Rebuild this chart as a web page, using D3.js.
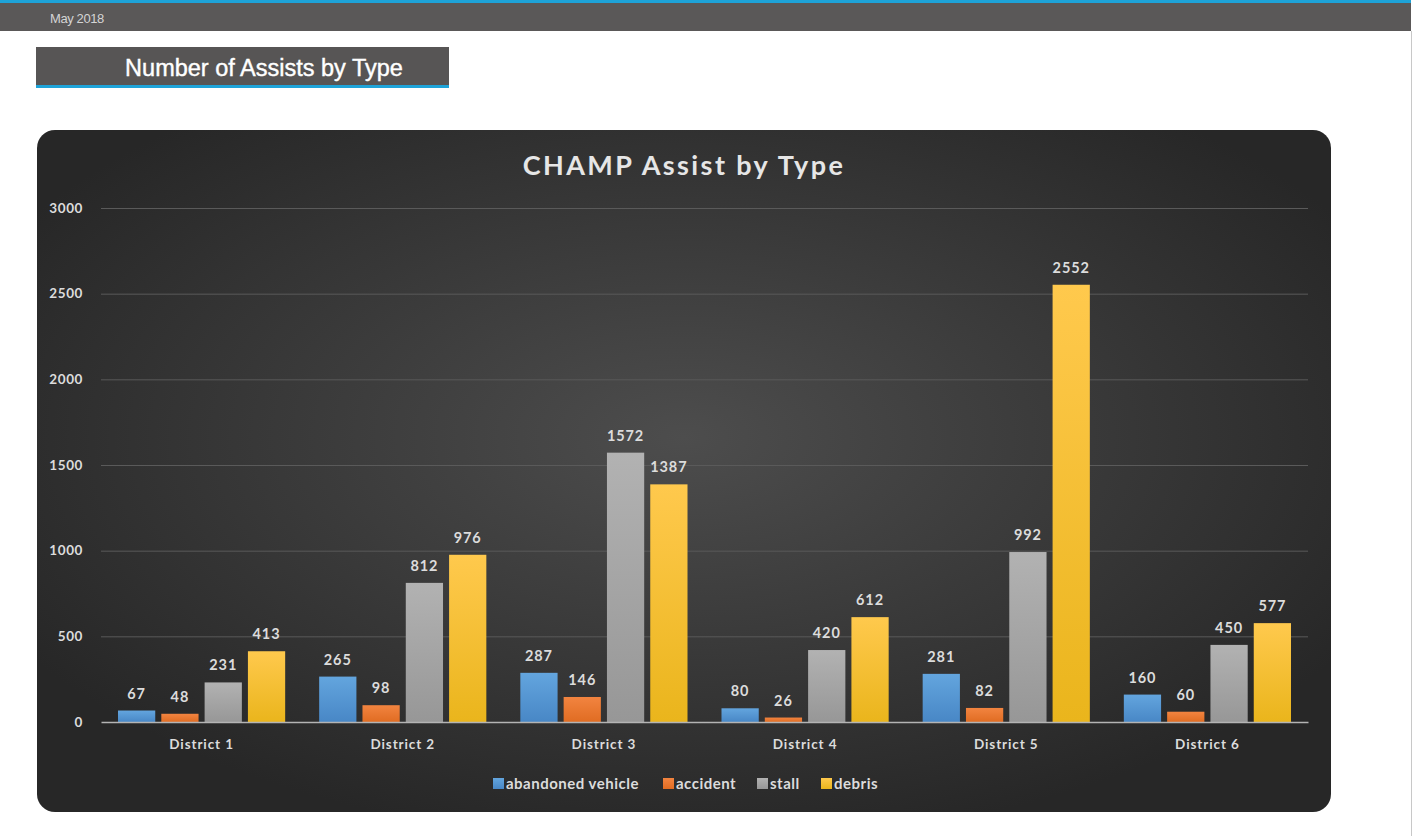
<!DOCTYPE html>
<html>
<head>
<meta charset="utf-8">
<script src="https://cdn.jsdelivr.net/npm/d3@7"></script>
<style>
  body { margin: 0; background: #fff; }
  svg { display: block; }
</style>
</head>
<body>
<div id="chart"></div>
<script>
const districts = ["District 1", "District 2", "District 3", "District 4", "District 5", "District 6"];
const types = ["abandoned vehicle", "accident", "stall", "debris"];
const abandoned = [67, 265, 287, 80, 281, 160];
const accident = [48, 98, 146, 26, 82, 60];
const stall = [231, 812, 1572, 420, 992, 450];
const debris = [413, 976, 1387, 612, 2552, 577];
const yTicks = [0, 500, 1000, 1500, 2000, 2500, 3000];

const seriesValues = [abandoned, accident, stall, debris];
const colors = [
  ["#63a5de", "#4887c6"],
  ["#f28440", "#e06c22"],
  ["#b2b2b2", "#979797"],
  ["#ffc94d", "#eab51c"],
];

const width = 1414;
const height = 836;
const font = "Lato, sans-serif";
const textColor = "#dcdcdc";

const svg = d3.select("#chart")
  .append("svg")
  .attr("width", width)
  .attr("height", height);

const defs = svg.append("defs");

const bg = defs.append("radialGradient")
  .attr("id", "panelBg")
  .attr("cx", "50%").attr("cy", "45%").attr("r", "60%");
bg.append("stop").attr("offset", "0%").attr("stop-color", "#4d4d4d");
bg.append("stop").attr("offset", "100%").attr("stop-color", "#272727");

colors.forEach((c, i) => {
  const g = defs.append("linearGradient")
    .attr("id", "bar" + i)
    .attr("x1", 0).attr("y1", 0).attr("x2", 0).attr("y2", 1);
  g.append("stop").attr("offset", "0%").attr("stop-color", c[0]);
  g.append("stop").attr("offset", "100%").attr("stop-color", c[1]);
});

// header strip
svg.append("rect").attr("x", 0).attr("y", 0).attr("width", 1411).attr("height", 31).attr("fill", "#5a5858");
svg.append("rect").attr("x", 0).attr("y", 0).attr("width", 1411).attr("height", 3).attr("fill", "#1ea3d8");
svg.append("text")
  .attr("x", 50).attr("y", 23)
  .attr("font-family", "Liberation Sans, Arial, sans-serif")
  .attr("font-size", 13)
  .attr("letter-spacing", -0.4)
  .attr("fill", "#d4d4d4")
  .text("May 2018");
svg.append("line")
  .attr("x1", 1411.5).attr("x2", 1411.5).attr("y1", 31).attr("y2", height)
  .attr("stroke", "#c8c8c8");

// section title box
svg.append("rect").attr("x", 36).attr("y", 47).attr("width", 413).attr("height", 41).attr("fill", "#575555");
svg.append("rect").attr("x", 36).attr("y", 85).attr("width", 413).attr("height", 3).attr("fill", "#1ea3d8");
svg.append("text")
  .attr("x", 264).attr("y", 76)
  .attr("text-anchor", "middle")
  .attr("font-family", "Liberation Sans, Arial, sans-serif")
  .attr("font-size", 23.5)
  .attr("stroke", "#ffffff")
  .attr("stroke-width", 0.4)
  .attr("fill", "#ffffff")
  .text("Number of Assists by Type");

// chart panel
svg.append("rect")
  .attr("x", 37).attr("y", 130).attr("width", 1294).attr("height", 682)
  .attr("rx", 18).attr("ry", 18)
  .attr("fill", "url(#panelBg)");

svg.append("text")
  .attr("x", 684).attr("y", 175)
  .attr("text-anchor", "middle")
  .attr("font-family", font)
  .attr("font-weight", "bold")
  .attr("font-size", 27)
  .attr("letter-spacing", 2.4)
  .attr("fill", "#e6e6e6")
  .text("CHAMP Assist by Type");

const plotLeft = 101;
const plotRight = 1308;

const x0 = d3.scaleBand().domain(districts).range([plotLeft, plotRight]);
const x1 = d3.scaleBand().domain(types).range([17, x0.bandwidth() - 17]).paddingInner(0.14);
const y = d3.scaleLinear().domain([0, 3000]).range([722, 208]);

// gridlines
svg.append("g")
  .selectAll("line")
  .data(yTicks.filter((t) => t > 0))
  .enter()
  .append("line")
  .attr("x1", plotLeft).attr("x2", plotRight)
  .attr("y1", (d) => y(d) + 0.5).attr("y2", (d) => y(d) + 0.5)
  .attr("stroke", "#5a5a5a")
  .attr("stroke-width", 1);

// y axis labels
const yAxis = svg.append("g")
  .attr("transform", `translate(${plotLeft - 15},0)`)
  .call(d3.axisLeft(y).tickValues(yTicks).tickSize(0).tickFormat(d3.format("d")));
yAxis.select(".domain").remove();
yAxis.selectAll("text")
  .attr("font-family", font)
  .attr("font-weight", "bold")
  .attr("font-size", 13.5)
  .attr("letter-spacing", 0.6)
  .attr("fill", textColor);

// bars
const groups = svg.append("g")
  .selectAll("g")
  .data(districts)
  .enter()
  .append("g")
  .attr("transform", (d) => `translate(${x0(d)},0)`);

const cells = (d, i) => types.map((t, k) => ({ type: t, k, value: seriesValues[k][i] }));

groups.selectAll("rect")
  .data(cells)
  .enter()
  .append("rect")
  .attr("x", (d) => x1(d.type))
  .attr("y", (d) => y(d.value))
  .attr("width", x1.bandwidth())
  .attr("height", (d) => y(0) - y(d.value))
  .attr("fill", (d) => `url(#bar${d.k})`);

groups.selectAll("text")
  .data(cells)
  .enter()
  .append("text")
  .attr("x", (d) => x1(d.type) + x1.bandwidth() / 2)
  .attr("y", (d) => y(d.value) - 12)
  .attr("text-anchor", "middle")
  .attr("font-family", font)
  .attr("font-weight", "bold")
  .attr("font-size", 14.5)
  .attr("letter-spacing", 0.9)
  .attr("fill", textColor)
  .text((d) => d.value);

// x axis
const xAxis = svg.append("g")
  .attr("transform", `translate(0,${y(0)})`)
  .call(d3.axisBottom(x0).tickSize(0).tickPadding(17));
xAxis.select(".domain").attr("stroke", "#b4b4b4").attr("stroke-width", 1.5);
xAxis.selectAll("text")
  .attr("font-family", font)
  .attr("font-weight", "bold")
  .attr("font-size", 13.5)
  .attr("letter-spacing", 0.9)
  .attr("fill", textColor);

// legend
const legendItems = [
  { name: types[0], x: 493 },
  { name: types[1], x: 663 },
  { name: types[2], x: 757 },
  { name: types[3], x: 821 },
];
const legend = svg.append("g");
legendItems.forEach((it, k) => {
  legend.append("rect")
    .attr("x", it.x).attr("y", 778).attr("width", 11).attr("height", 11)
    .attr("fill", `url(#bar${k})`);
  legend.append("text")
    .attr("x", it.x + 13).attr("y", 789)
    .attr("font-family", font)
    .attr("font-weight", "bold")
    .attr("font-size", 15)
    .attr("letter-spacing", 0.5)
    .attr("fill", textColor)
    .text(it.name);
});
</script>
</body>
</html>
